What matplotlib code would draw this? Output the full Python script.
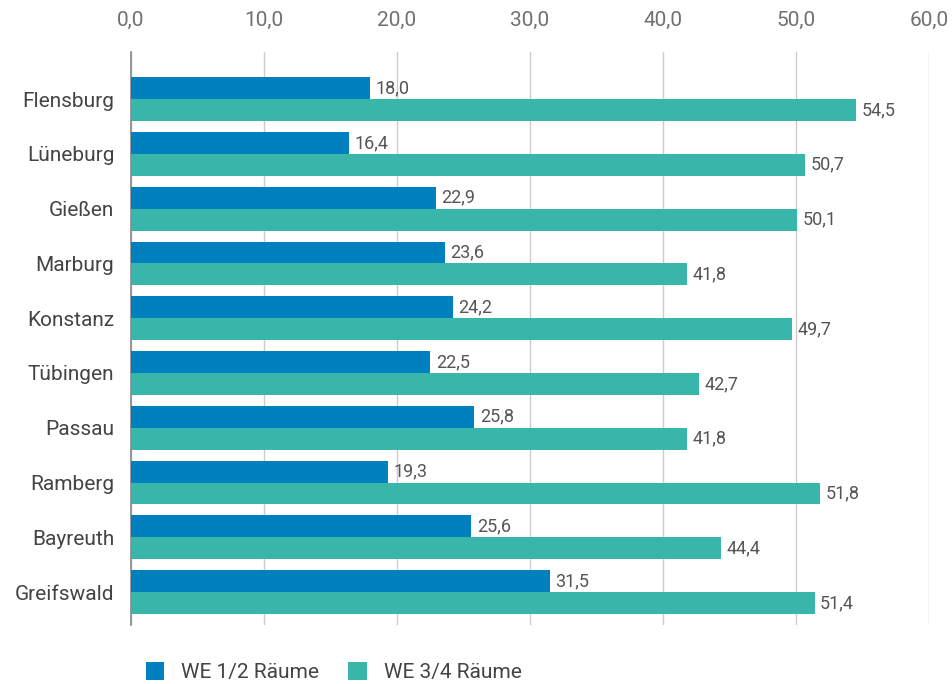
import matplotlib.pyplot as plt
import numpy as np

cities = ["Flensburg", "Lüneburg", "Gießen", "Marburg", "Konstanz",
          "Tübingen", "Passau", "Ramberg", "Bayreuth", "Greifswald"]
we_12 = [18.0, 16.4, 22.9, 23.6, 24.2, 22.5, 25.8, 19.3, 25.6, 31.5]
we_34 = [54.5, 50.7, 50.1, 41.8, 49.7, 42.7, 41.8, 51.8, 44.4, 51.4]
x_ticks = [0, 10, 20, 30, 40, 50, 60]

BLUE = "#0080bf"
TEAL = "#38b6aa"
GRAY = "#707070"

plt.rcParams["font.family"] = ["Roboto", "DejaVu Sans"]

fig = plt.figure(figsize=(9.52, 6.84), dpi=100)
ax = fig.add_axes([0.1376, 0.0863, 0.8382, 0.8377])

y = np.arange(len(cities))
h = 0.4
ax.barh(y - h / 2, we_12, height=h, color=BLUE, label="WE 1/2 Räume", zorder=3)
ax.barh(y + h / 2, we_34, height=h, color=TEAL, label="WE 3/4 Räume", zorder=3)


def fmt(v):
    return f"{v:.1f}".replace(".", ",")


for yi, v in zip(y, we_12):
    ax.annotate(fmt(v), (v, yi - h / 2), xytext=(4, 0), textcoords="offset points",
                va="center", ha="left", fontsize=13, color="#555555")
for yi, v in zip(y, we_34):
    ax.annotate(fmt(v), (v, yi + h / 2), xytext=(4, 0), textcoords="offset points",
                va="center", ha="left", fontsize=13, color="#555555")

ax.set_xlim(0, 60)
ax.set_ylim(9.6, -0.86)
ax.set_xticks(x_ticks)
ax.set_xticklabels([fmt(t) for t in x_ticks], fontsize=15, color=GRAY)
ax.xaxis.tick_top()
ax.tick_params(axis="x", length=0, pad=16)
ax.set_yticks(y)
ax.set_yticklabels(cities, fontsize=15, color="#444444")
ax.tick_params(axis="y", length=0, pad=12)
ax.grid(axis="x", color="#cccccc", linewidth=1, zorder=0)
for side in ["top", "right", "bottom"]:
    ax.spines[side].set_visible(False)
ax.spines["left"].set_color("#888888")
ax.spines["left"].set_linewidth(1.2)

ax.legend(loc="upper left", bbox_to_anchor=(0.0, -0.04), ncol=2, frameon=False,
          fontsize=15, handlelength=0.9, handleheight=0.9, columnspacing=1.4,
          handletextpad=0.8, labelcolor="#444444", borderaxespad=0.3)

fig.savefig("out.png", dpi=100)
